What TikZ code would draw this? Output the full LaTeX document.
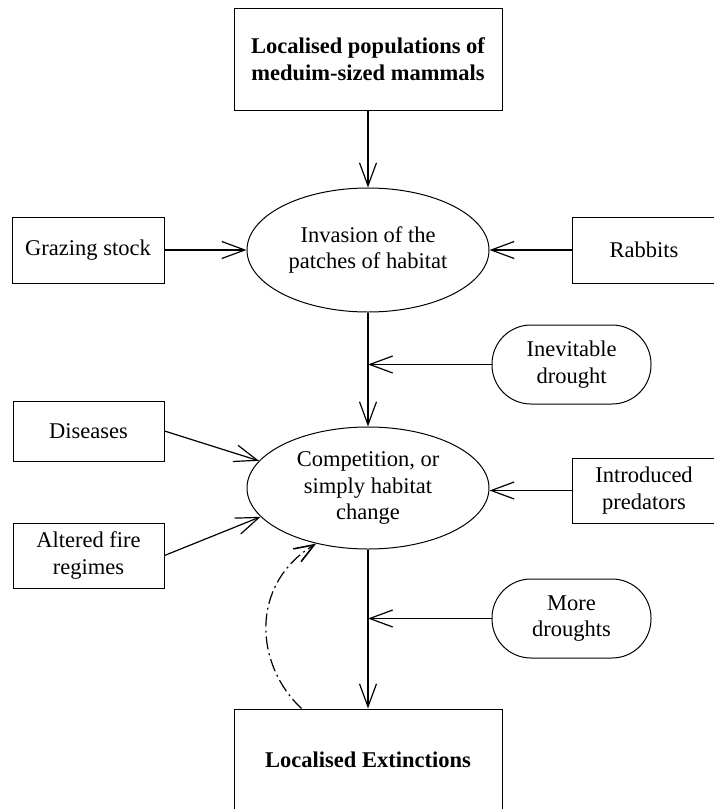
\documentclass[tikz,border=0pt]{standalone}
\usepackage{fontspec}
\setmainfont{Liberation Serif}
\usetikzlibrary{arrows.meta,shapes.geometric}
\begin{document}
\begin{tikzpicture}[x=1pt,y=-1pt,
  every node/.style={font=\fontsize{22.5}{26.5}\selectfont, align=center, inner sep=0pt},
  box/.style={draw, rectangle, line width=1pt},
  oval/.style={draw, ellipse, line width=1pt},
  pill/.style={draw, rectangle, rounded corners=39pt, line width=1pt, minimum width=159pt, minimum height=79pt},
  arr/.style={line width=1.2pt, -{Straight Barb[length=23pt,width=17pt,line width=1.2pt]}},
  dashdot/.style={line width=1.2pt, dash pattern=on 13pt off 4pt on 2pt off 4pt, -{Straight Barb[length=20pt,width=15pt,line width=1.6pt]}}]
\useasboundingbox (0,0) rectangle (714,809);
\node[box, minimum width=268pt, minimum height=102pt] (top) at (368,59) {\bfseries Localised populations of\\ \bfseries meduim-sized mammals};
\node[oval, minimum width=242pt, minimum height=124pt] (inv) at (368,250) {Invasion of the\\patches of habitat};
\node[box, minimum width=152pt, minimum height=66pt] (graz) at (88,250) {Grazing stock};
\node[box, minimum width=144pt, minimum height=66pt] (rab) at (644,250) {Rabbits};
\node[pill] (inev) at (571.5,364.5) {Inevitable\\drought};
\node[oval, minimum width=242pt, minimum height=122pt] (comp) at (368,488) {Competition, or\\simply habitat\\change};
\node[box, minimum width=151pt, minimum height=60pt] (dis) at (88.5,431) {Diseases};
\node[box, minimum width=151pt, minimum height=65pt] (alt) at (88.5,555.5) {Altered fire\\regimes};
\node[box, minimum width=144pt, minimum height=65pt] (intro) at (644,490.5) {Introduced\\predators};
\node[pill] (more) at (571.5,618.5) {More\\droughts};
\node[box, minimum width=268pt, minimum height=101pt] (bot) at (368,759.5) {\bfseries Localised Extinctions};
\draw[arr] (top.south) -- (inv.north);
\draw[arr] (graz.east) -- (inv.west);
\draw[arr] (rab.west) -- (inv.east);
\draw[arr] (inv.south) -- (comp.north);
\draw[arr] (inev.west) -- (inev.west -| inv.south);
\draw[arr] (dis.east) -- (comp.166);
\draw[arr] (alt.east) -- (comp.195);
\draw[arr] (intro.west) -- (intro.west -| comp.east);
\draw[arr] (comp.south) -- (bot.north);
\draw[arr] (more.west) -- (more.west -| comp.south);
\coordinate (ds) at ([xshift=68pt]bot.north west);
\draw[dashdot] (ds) .. controls ([shift={(-47,-44)}]ds) and ([shift={(-52,-124)}]ds) .. (comp.227);
\end{tikzpicture}
\end{document}
